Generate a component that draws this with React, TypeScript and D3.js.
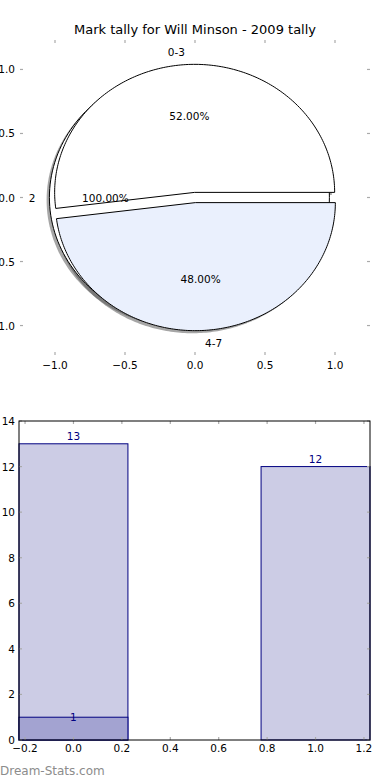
import React, { useEffect, useRef } from 'react';
import * as d3 from 'd3';

const TITLE = "Mark tally for Will Minson - 2009 tally";

// inner pie (exploded wedges)
const PIE_LABELS = ["0-3", "4-7"];
const PIE_VALUES = [13, 12];
const PIE_COLORS = ["#ffffff", "#eaf0fd"];

// background pie, a single wedge
const BACK_LABELS = ["2"];
const BACK_VALUES = [1];

const PIE_TICKS = [-1.0, -0.5, 0.0, 0.5, 1.0];

// bar chart
const BAR_X = [0, 1];
const BAR_VALUES = [13, 12];
const INNER_X = [0];
const INNER_VALUES = [1];
const BAR_X_TICKS = [-0.2, 0.0, 0.2, 0.4, 0.6, 0.8, 1.0, 1.2];
const BAR_Y_TICKS = [0, 2, 4, 6, 8, 10, 12, 14];

const FONT = "'DejaVu Sans', sans-serif";
const TICK_COLOR = "#aaaaaa";

export default function App() {
  const svgRef = useRef<SVGSVGElement>(null);

  useEffect(() => {
    const svg = d3.select(svgRef.current);
    svg.selectAll("*").remove();

    const fmt = (v: number) => d3.format(".1f")(v).replace("-", "\u2212");

    // ---------- top: pie ----------
    const P = { left: 20, right: 370, top: 40, bottom: 355 };
    const xP = d3.scaleLinear().domain([-1.25, 1.25]).range([P.left, P.right]);
    const yP = d3.scaleLinear().domain([-1.23, 1.23]).range([P.bottom, P.top]);
    const EXPLODE = 0.04;
    const R = 1;

    svg.append("text")
      .attr("x", 195).attr("y", 34)
      .attr("text-anchor", "middle")
      .style("font-family", FONT).style("font-size", "13px")
      .text(TITLE);

    const line = d3.line<[number, number]>().x(d => xP(d[0])).y(d => yP(d[1]));

    // wedge outline in data coords, angles counterclockwise from +x
    function wedge(cx: number, cy: number, t1: number, t2: number, full: boolean) {
      const pts: [number, number][] = [];
      const n = 180;
      if (!full) pts.push([cx, cy]);
      for (let i = 0; i <= n; i++) {
        const t = t1 + (t2 - t1) * i / n;
        pts.push([cx + R * Math.cos(t), cy + R * Math.sin(t)]);
      }
      return line(pts) + "Z";
    }

    const pieGen = d3.pie<number>().sort(null).value(d => d);

    const build = (values: number[], labels: string[], colors: string[]) => {
      const total = d3.sum(values);
      return pieGen(values).map((a, i) => {
        const t1 = a.startAngle, t2 = a.endAngle;
        const mid = (t1 + t2) / 2;
        return {
          label: labels[i],
          pct: (values[i] / total * 100).toFixed(2) + "%",
          t1, t2, mid,
          cx: EXPLODE * Math.cos(mid),
          cy: EXPLODE * Math.sin(mid),
          full: Math.abs(t2 - t1 - 2 * Math.PI) < 1e-9,
          color: colors[i % colors.length],
        };
      });
    };

    const back = build(BACK_VALUES, BACK_LABELS, ["#ffffff"]);
    const front = build(PIE_VALUES, PIE_LABELS, PIE_COLORS);
    const all = [...back, ...front];

    const gp = svg.append("g");
    // shadows below everything
    all.forEach(w => {
      gp.append("path")
        .attr("d", wedge(w.cx - 0.02, w.cy - 0.02, w.t1, w.t2, w.full))
        .attr("fill", "#4d4d4d").attr("fill-opacity", 0.5)
        .attr("stroke", "none");
    });
    all.forEach(w => {
      gp.append("path")
        .attr("d", wedge(w.cx, w.cy, w.t1, w.t2, w.full))
        .attr("fill", w.color)
        .attr("stroke", "#000").attr("stroke-width", 1)
        .attr("stroke-linejoin", "round");
    });
    all.forEach(w => {
      const c = Math.cos(w.mid), s = Math.sin(w.mid);
      gp.append("text")
        .attr("x", xP(w.cx + 1.1 * R * c))
        .attr("y", yP(w.cy + 1.1 * R * s))
        .attr("text-anchor", c > 0 ? "start" : "end")
        .attr("dominant-baseline", "central")
        .style("font-family", FONT).style("font-size", "10.5px")
        .text(w.label);
      gp.append("text")
        .attr("x", xP(w.cx + 0.6 * R * c))
        .attr("y", yP(w.cy + 0.6 * R * s))
        .attr("text-anchor", "middle")
        .attr("dominant-baseline", "central")
        .style("font-family", FONT).style("font-size", "10.5px")
        .text(w.pct);
    });

    // pie ticks (no frame)
    const tp = svg.append("g").attr("stroke", TICK_COLOR).attr("stroke-width", 1.2);
    PIE_TICKS.forEach(v => {
      tp.append("line").attr("x1", xP(v)).attr("x2", xP(v)).attr("y1", P.top).attr("y2", P.top + 3);
      tp.append("line").attr("x1", xP(v)).attr("x2", xP(v)).attr("y1", P.bottom).attr("y2", P.bottom - 3);
      tp.append("line").attr("x1", P.left).attr("x2", P.left + 3).attr("y1", yP(v)).attr("y2", yP(v));
      tp.append("line").attr("x1", P.right).attr("x2", P.right - 3).attr("y1", yP(v)).attr("y2", yP(v));
    });
    PIE_TICKS.forEach(v => {
      svg.append("text")
        .attr("x", xP(v)).attr("y", P.bottom + 14)
        .attr("text-anchor", "middle")
        .style("font-family", FONT).style("font-size", "10.5px")
        .text(fmt(v));
      svg.append("text")
        .attr("x", P.left - 5).attr("y", yP(v))
        .attr("text-anchor", "end").attr("dominant-baseline", "central")
        .style("font-family", FONT).style("font-size", "10.5px")
        .text(fmt(v));
    });

    // ---------- bottom: bars ----------
    const B = { left: 19, right: 370, top: 421, bottom: 740 };
    const xB = d3.scaleLinear().domain([-0.225, 1.225]).range([B.left, B.right]);
    const yB = d3.scaleLinear().domain([0, 14]).range([B.bottom, B.top]);
    const BW = 0.45;

    const gb = svg.append("g");
    BAR_X.forEach((x, i) => {
      gb.append("rect")
        .attr("x", xB(x - BW / 2)).attr("y", yB(BAR_VALUES[i]))
        .attr("width", xB(x + BW / 2) - xB(x - BW / 2))
        .attr("height", yB(0) - yB(BAR_VALUES[i]))
        .attr("fill", "#ccccE5").attr("stroke", "#000080").attr("stroke-width", 1);
      gb.append("text")
        .attr("x", xB(x)).attr("y", yB(BAR_VALUES[i]) - 4)
        .attr("text-anchor", "middle")
        .style("font-family", FONT).style("font-size", "10.5px")
        .attr("fill", "#000080")
        .text(BAR_VALUES[i]);
    });
    INNER_X.forEach((x, i) => {
      gb.append("rect")
        .attr("x", xB(x - BW / 2)).attr("y", yB(INNER_VALUES[i]))
        .attr("width", xB(x + BW / 2) - xB(x - BW / 2))
        .attr("height", yB(0) - yB(INNER_VALUES[i]))
        .attr("fill", "#a3a3d1").attr("stroke", "#000080").attr("stroke-width", 1);
      gb.append("text")
        .attr("x", xB(x)).attr("y", yB(INNER_VALUES[i]))
        .attr("text-anchor", "middle").attr("dominant-baseline", "central")
        .style("font-family", FONT).style("font-size", "10.5px")
        .attr("fill", "#000080")
        .text(INNER_VALUES[i]);
    });

    const tb = svg.append("g").attr("stroke", TICK_COLOR).attr("stroke-width", 1.2);
    BAR_X_TICKS.forEach(v => {
      tb.append("line").attr("x1", xB(v)).attr("x2", xB(v)).attr("y1", B.top).attr("y2", B.top + 3);
      tb.append("line").attr("x1", xB(v)).attr("x2", xB(v)).attr("y1", B.bottom).attr("y2", B.bottom - 3);
      svg.append("text")
        .attr("x", xB(v)).attr("y", B.bottom + 12)
        .attr("text-anchor", "middle")
        .style("font-family", FONT).style("font-size", "10.5px")
        .text(fmt(v));
    });
    BAR_Y_TICKS.forEach(v => {
      tb.append("line").attr("x1", B.left).attr("x2", B.left + 3).attr("y1", yB(v)).attr("y2", yB(v));
      tb.append("line").attr("x1", B.right).attr("x2", B.right - 3).attr("y1", yB(v)).attr("y2", yB(v));
      svg.append("text")
        .attr("x", B.left - 4).attr("y", yB(v))
        .attr("text-anchor", "end").attr("dominant-baseline", "central")
        .style("font-family", FONT).style("font-size", "10.5px")
        .text(v);
    });

    svg.append("rect")
      .attr("x", B.left).attr("y", B.top)
      .attr("width", B.right - B.left).attr("height", B.bottom - B.top)
      .attr("fill", "none").attr("stroke", "#000").attr("stroke-width", 1);

    svg.append("text")
      .attr("x", 0).attr("y", 775)
      .style("font-family", FONT).style("font-size", "12px")
      .attr("fill", "#8c8c8c")
      .text("Dream-Stats.com");
  }, []);

  return (
    <svg ref={svgRef} width={390} height={780}
      style={{ position: "absolute", left: 0, top: 0, background: "#fff" }} />
  );
}
